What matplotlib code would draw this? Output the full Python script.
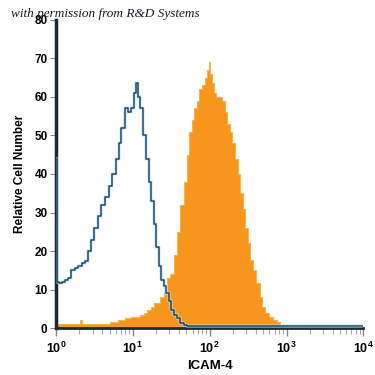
import numpy as np
import matplotlib.pyplot as plt
from matplotlib.ticker import LogLocator, FixedLocator

plt.rcParams['mathtext.fontset'] = 'custom'
plt.rcParams['mathtext.rm'] = 'Liberation Sans:bold'
plt.rcParams['mathtext.bf'] = 'Liberation Sans:bold'

# Histogramas (posición en log10 del canal, cuentas relativas)
control_log = [0.0, 0.02, 0.05, 0.10, 0.14, 0.18, 0.22, 0.27, 0.31, 0.36, 0.40,
               0.44, 0.48, 0.52, 0.57, 0.61, 0.66, 0.71, 0.76, 0.80, 0.83,
               0.87, 0.92, 0.96, 1.00, 1.03, 1.06, 1.08, 1.11, 1.15, 1.19,
               1.22, 1.25, 1.29, 1.32, 1.35, 1.38, 1.42, 1.45, 1.48, 1.51,
               1.55, 1.60, 1.64, 1.68, 1.73, 2.0, 2.5, 3.0, 3.5, 4.0]
control_val = [44, 12, 11.7, 12, 12.5, 13, 15, 15.5, 16, 17, 17.5,
               20, 23, 26, 29, 32, 34, 37, 40, 44, 48,
               52, 57, 56, 57, 61, 63.6, 60, 57, 50, 44,
               38, 33, 27, 21, 16, 12.5, 11, 9, 7, 4.7,
               3.5, 2.5, 1.3, 0.8, 0.5, 0.5, 0.5, 0.5, 0.5, 0.5]

icam4_log = [0.0, 0.10, 0.20, 0.30, 0.33, 0.36, 0.45, 0.55, 0.65, 0.75, 0.85,
             0.95, 1.00, 1.04, 1.08, 1.12, 1.16, 1.21, 1.26, 1.30, 1.34,
             1.38, 1.43, 1.47, 1.51, 1.55, 1.60, 1.64, 1.69, 1.72, 1.75,
             1.78, 1.82, 1.85, 1.88, 1.92, 1.95, 1.98, 2.00, 2.02, 2.04,
             2.07, 2.09, 2.13, 2.18, 2.21, 2.25, 2.28, 2.31, 2.35, 2.38,
             2.41, 2.45, 2.48, 2.51, 2.54, 2.58, 2.63, 2.67, 2.70, 2.75,
             2.80, 2.85, 2.89, 2.93, 3.0, 3.5, 4.0]
icam4_val = [1, 1, 1, 1, 2.2, 1, 1, 1, 1, 1.5, 2,
             2.5, 3, 3, 3, 3.5, 4, 4.7, 5.5, 6.5, 6.5,
             8, 9, 13, 14, 19, 25, 32, 38, 45, 51,
             54, 57, 59, 62, 63, 65, 67, 69, 66, 63.6,
             61, 60, 60, 59, 56, 53, 51, 48, 44, 40,
             35, 31, 26, 22, 17.7, 15, 11.7, 8, 5.5, 4,
             3, 2.2, 1.5, 0.3, 0, 0, 0]

x_ticks = [1, 10, 100, 1000, 10000]
x_labels = ['$10^0$', '$10^1$', '$10^2$', '$10^3$', '$10^4$']
y_ticks = [0, 10, 20, 30, 40, 50, 60, 70, 80]

naranja = '#f7961c'
azul = '#1d4a66'

fig = plt.figure(figsize=(3.75, 3.75), dpi=100)
ax = fig.add_axes([0.149, 0.125, 0.82, 0.822])

xi = 10 ** np.array(icam4_log)
ax.fill_between(xi, icam4_val, step='mid', color=naranja, lw=0, zorder=2)
ax.step(xi, icam4_val, where='mid', color='#f9b54a', lw=0.8, zorder=2)

xc = 10 ** np.array(control_log)
ax.step(xc, control_val, where='mid', color='#bfe3f5', lw=2.6, zorder=3, alpha=0.6)
ax.step(xc, control_val, where='mid', color=azul, lw=1.1, zorder=4)

ax.set_xscale('log')
ax.set_xlim(1, 10000)
ax.set_ylim(0, 80)
ax.xaxis.set_major_locator(FixedLocator(x_ticks))
ax.set_xticklabels(x_labels)
ax.xaxis.set_minor_locator(LogLocator(base=10, subs=np.arange(2, 10)))
ax.set_yticks(y_ticks)

for s in ['top', 'right']:
    ax.spines[s].set_visible(False)
ax.spines['left'].set_linewidth(2.5)
ax.spines['left'].set_color('#1a2a35')
ax.spines['bottom'].set_linewidth(2)
ax.spines['bottom'].set_color('#1a2a35')

ax.tick_params(axis='x', which='major', length=6, width=1, color='#888888',
               labelsize=9, pad=3)
ax.tick_params(axis='x', which='minor', length=4, width=0.8, color='#aaaaaa')
ax.tick_params(axis='y', length=4, width=0.8, color='#888888', labelsize=8.5, pad=2)
for lab in ax.get_yticklabels():
    lab.set_fontweight('bold')
    lab.set_family('Liberation Sans')

ax.set_xlabel('ICAM-4', fontsize=9.5, fontweight='bold', family='Liberation Sans', labelpad=3)
ax.set_ylabel('Relative Cell Number', fontsize=8.5, fontweight='bold',
              family='Liberation Sans', labelpad=6)

fig.text(0.03, 0.955, 'with permission from R&D Systems', fontsize=9.5,
         style='italic', family='Liberation Serif', color='#1a1a2a')

plt.savefig('out.png', dpi=100)
